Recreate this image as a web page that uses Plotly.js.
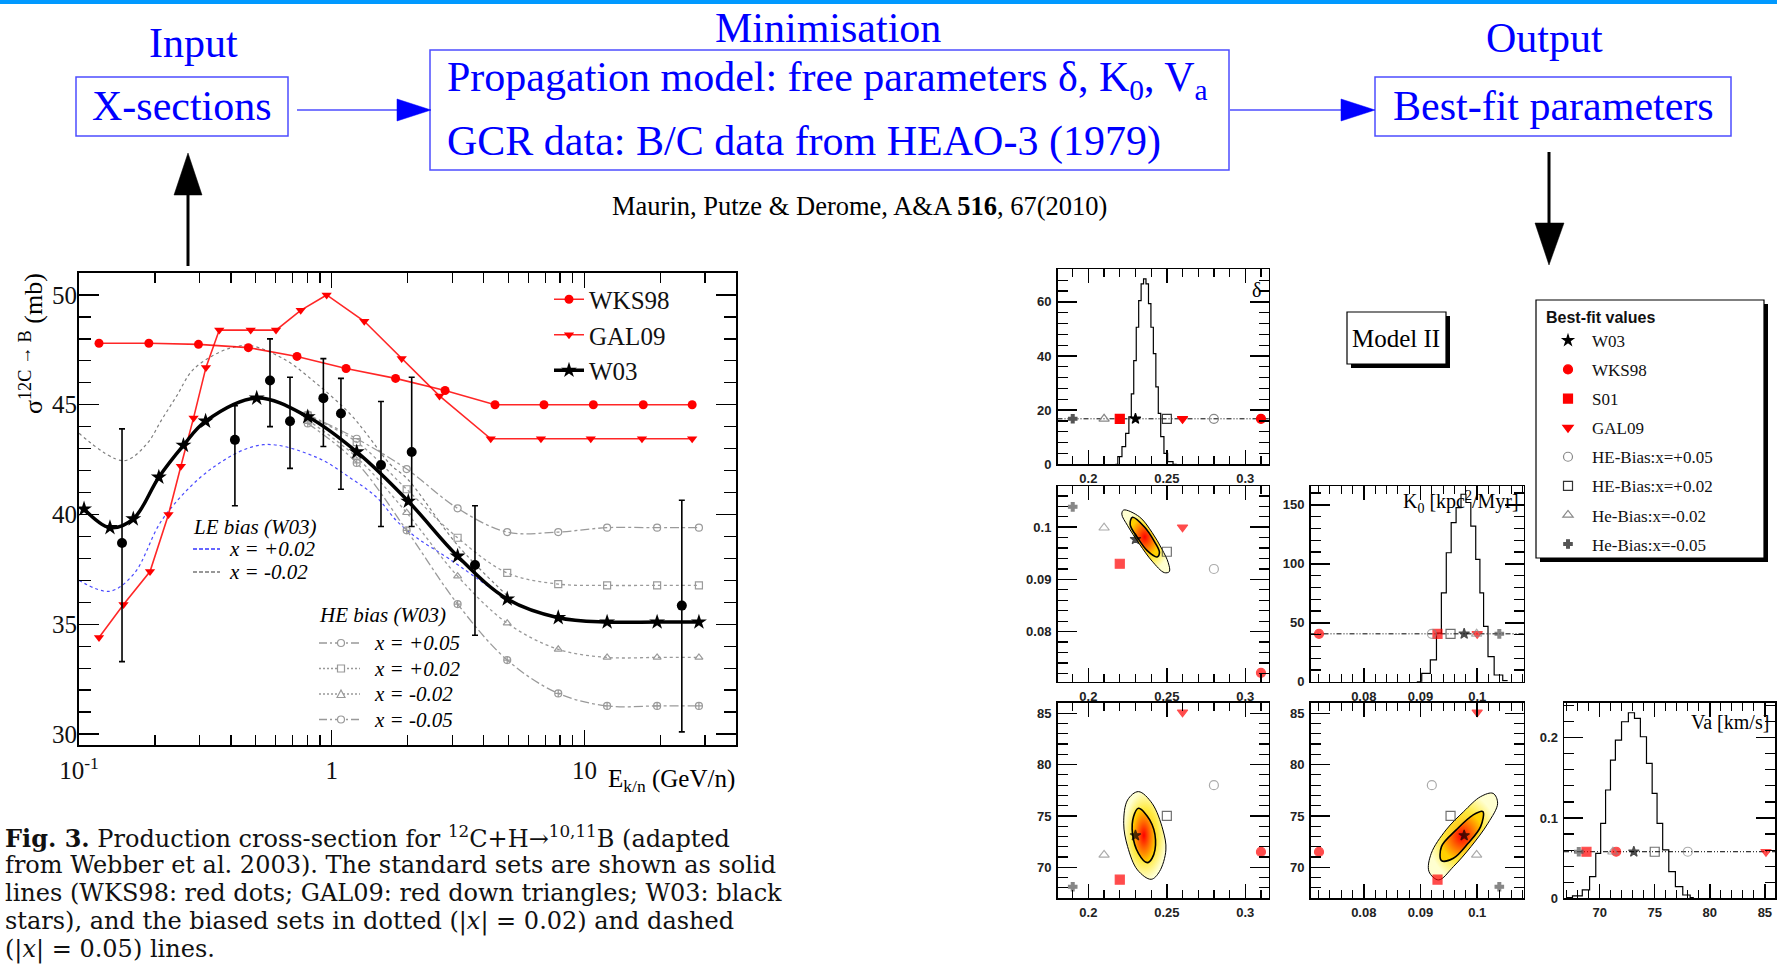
<!DOCTYPE html>
<html><head><meta charset="utf-8">
<script src="https://cdn.plot.ly/plotly-3.0.1.min.js"></script>
<style>html,body{margin:0;padding:0;background:#fff;}#chart{width:1777px;height:965px;}</style>
</head><body><div id="chart"></div>
<script>
// ================= DATA =================
// Left plot: production cross-section 12C -> B
const wks98X = [0.12, 0.189, 0.297, 0.468, 0.729, 1.14, 1.79, 2.81, 4.43, 6.92, 10.85, 17.1, 26.7];
const wks98Y = [47.8, 47.8, 47.75, 47.6, 47.2, 46.65, 46.2, 45.65, 45.0, 45.0, 45.0, 45.0, 45.0];
const gal09X = [0.12, 0.15, 0.191, 0.226, 0.253, 0.284, 0.318, 0.359, 0.478, 0.602, 0.754, 0.955, 1.346, 1.892, 2.67, 4.26, 6.73, 10.6, 16.9, 26.7];
const gal09Y = [34.4, 35.9, 37.4, 40.0, 42.2, 44.4, 46.7, 48.4, 48.4, 48.4, 49.3, 50.0, 48.8, 47.1, 45.4, 43.45, 43.45, 43.45, 43.45, 43.45];
const w03X = [0.1047, 0.1326, 0.164, 0.207, 0.259, 0.317, 0.505, 0.804, 1.256, 2.01, 3.15, 4.95, 7.88, 12.3, 19.4, 28.4];
const w03Y = [40.25, 39.4, 39.8, 41.7, 43.15, 44.25, 45.3, 44.45, 42.85, 40.6, 38.1, 36.15, 35.3, 35.1, 35.1, 35.1];
const measX = [0.148, 0.414, 0.570, 0.684, 0.927, 1.088, 1.567, 2.073, 3.69, 24.3];
const measY = [38.7, 43.4, 46.1, 44.25, 45.3, 44.6, 42.25, 42.85, 37.7, 35.85];
const measErrPlus = [5.2, 1.55, 1.9, 2.0, 1.8, 1.6, 2.9, 3.4, 2.7, 4.8];
const measErrMinus = [5.4, 3.0, 2.1, 2.15, 2.2, 3.45, 2.8, 3.4, 3.2, 5.75];
const leP02X = [0.1, 0.132, 0.165, 0.216, 0.34, 0.536, 0.872, 1.18, 1.51, 1.81, 2.17, 2.94, 4.95];
const leP02Y = [37.0, 36.5, 37.3, 39.85, 42.15, 43.18, 42.6, 41.68, 40.77, 39.7, 38.94, 37.95, 36.1];
const leM02X = [0.1, 0.15, 0.185, 0.212, 0.2435, 0.283, 0.361, 0.42, 0.475, 0.643, 0.872, 1.18, 1.375, 1.70, 2.0, 3.15, 4.95];
const leM02Y = [43.7, 42.45, 43.2, 44.3, 45.4, 46.6, 47.4, 47.65, 47.7, 47.1, 45.96, 44.59, 43.67, 42.3, 41.6, 38.6, 36.3];
const heX = [0.804, 1.256, 1.98, 3.15, 4.95, 7.88, 12.3, 19.4, 28.4];
const heP05Y = [44.55, 43.45, 42.07, 40.28, 39.2, 39.2, 39.4, 39.4, 39.4];
const heP02Y = [44.5, 43.3, 41.15, 38.94, 37.34, 36.83, 36.77, 36.77, 36.77];
const heM02Y = [44.3, 42.6, 40.08, 37.19, 35.05, 33.86, 33.49, 33.49, 33.49];
const heM05Y = [44.15, 42.35, 39.28, 35.92, 33.37, 31.85, 31.28, 31.28, 31.28];
const xTickVals = [0.1, 1, 10];
const xTickText = ['10<sup>-1</sup>', '1', '10'];
const xMinorVals = [0.2, 0.3, 0.4, 0.5, 0.6, 0.7, 0.8, 0.9, 2, 3, 4, 5, 6, 7, 8, 9, 20, 30];

// Right panels: best-fit values
const setNames = ['W03', 'WKS98', 'S01', 'GAL09', 'HE-Bias:x=+0.05', 'HE-Bias:x=+0.02', 'He-Bias:x=-0.02', 'He-Bias:x=-0.05'];
const bestDelta = [0.23, 0.31, 0.22, 0.26, 0.28, 0.25, 0.21, 0.19];
const bestK0 = [0.0977, 0.0721, 0.093, 0.100, 0.092, 0.0953, 0.0999, 0.1039];
const bestVa = [73.1, 71.5, 68.8, 85.1, 78.0, 75.0, 71.2, 68.1];
// PDF histograms
const deltaHistX = [0.2172, 0.2203, 0.2225, 0.225, 0.2266, 0.2281, 0.2297, 0.2313, 0.2328, 0.2344, 0.2359, 0.2375, 0.2391, 0.2406, 0.2422, 0.2438, 0.2453, 0.2469, 0.2494, 0.2516, 0.2563];
const deltaHistY = [0, 2.8, 6.5, 11.4, 17.5, 26.0, 38.3, 50.6, 60.4, 66.6, 68.5, 66.6, 59.3, 50.6, 40.9, 28.6, 18.8, 10.2, 4.0, 1.0, 0];
const k0HistX = [0.08935, 0.09108, 0.09238, 0.09325, 0.09411, 0.09498, 0.09584, 0.09671, 0.09758, 0.09844, 0.09931, 0.10017, 0.10078, 0.10147, 0.10234, 0.10364, 0.10537];
const k0HistY = [0, 7.1, 18.5, 41.2, 75.3, 109.4, 135, 147.7, 159, 152, 132, 103.7, 75.3, 46.9, 21.3, 5.7, 0.9];
const vaHistX = [66.97, 68.09, 68.75, 69.42, 69.87, 70.31, 70.76, 71.2, 71.65, 72.32, 72.89, 73.43, 73.96, 74.54, 74.99, 75.43, 76.01, 76.54, 77.21, 77.88, 78.55];
const vaHistY = [0.001, 0.003, 0.0104, 0.027, 0.056, 0.0934, 0.1349, 0.1722, 0.1971, 0.2199, 0.2311, 0.2241, 0.2012, 0.168, 0.1307, 0.0934, 0.0602, 0.0332, 0.0145, 0.0041, 0.0008];
// 2D credible contours (outer / inner)
const dkOuterD = [0.2225, 0.2325, 0.2406, 0.2469, 0.2509, 0.2516, 0.2484, 0.2406, 0.2325, 0.2250, 0.2213, 0.2225];
const dkOuterK = [0.1033, 0.1020, 0.0990, 0.0958, 0.0932, 0.0915, 0.0913, 0.0935, 0.0968, 0.1003, 0.1025, 0.1033];
const dkInnerD = [0.2281, 0.2359, 0.2422, 0.2453, 0.2438, 0.2375, 0.2313, 0.2266, 0.2281];
const dkInnerK = [0.1019, 0.1000, 0.0972, 0.0952, 0.0943, 0.0955, 0.0980, 0.1005, 0.1019];
const dvOuterD = [0.2319, 0.2406, 0.2475, 0.2494, 0.2453, 0.2400, 0.2313, 0.2250, 0.2225, 0.2250, 0.2319];
const dvOuterV = [77.37, 76.23, 73.64, 71.69, 69.58, 68.83, 69.74, 72.01, 74.29, 76.56, 77.37];
const dvInnerD = [0.2319, 0.2391, 0.2428, 0.2406, 0.2375, 0.2319, 0.2281, 0.2288, 0.2319];
const dvInnerV = [75.75, 74.61, 72.66, 70.88, 70.45, 71.36, 73.31, 74.94, 75.75];
const kvOuterK = [0.1028, 0.1036, 0.1019, 0.0989, 0.0958, 0.0932, 0.0915, 0.0919, 0.0945, 0.0976, 0.1006, 0.1028];
const kvOuterV = [77.2, 76.23, 74.29, 72.01, 70.06, 68.77, 69.58, 71.36, 73.64, 75.42, 76.88, 77.2];
const kvInnerK = [0.1010, 0.1006, 0.0984, 0.0958, 0.0937, 0.0937, 0.0963, 0.0993, 0.1010];
const kvInnerV = [75.42, 73.96, 72.34, 70.88, 70.65, 72.01, 73.64, 75.1, 75.42];

// ================= STYLE / LAYOUT CONSTANTS =================
const W = 1777, H = 965;
const px = x => x / W;
const py = y => 1 - y / H;
const SERIF = 'Liberation Serif, Times New Roman, serif';
const SANS = 'Liberation Sans, Arial, sans-serif';
const CAPFONT = 'DejaVu Serif, serif';
const BLUE = '#0000ff';
const rowLevel = {p1: 16.8, p3: 40.6, p6: 0.058};
const bfSymbol = ['star', 'circle', 'square', 'triangle-down', 'circle-open', 'square-open', 'triangle-up-open', 'cross'];
const bfColor = ['#000000', '#ff0000', '#ff0000', '#ff0000', '#888888', '#333333', '#888888', '#555555'];
const bfSize = [8, 9, 9, 9, 9, 9, 9, 7];

// ================= TRACES =================
const data = [];
const lp = {xaxis: 'x', yaxis: 'y', showlegend: false};
data.push(Object.assign({x: leP02X, y: leP02Y, mode: 'lines', line: {color: '#4a4aff', width: 1.2, dash: 'dot', shape: 'spline'}}, lp));
data.push(Object.assign({x: leM02X, y: leM02Y, mode: 'lines', line: {color: '#808080', width: 1.2, dash: 'dot', shape: 'spline'}}, lp));
const heStyles = [
  {y: heP05Y, dash: 'dashdot', sym: 'circle-open'},
  {y: heP02Y, dash: 'dot', sym: 'square-open'},
  {y: heM02Y, dash: 'dot', sym: 'triangle-up-open'},
  {y: heM05Y, dash: 'dashdot', sym: 'circle-cross-open'}
];
heStyles.forEach(s => data.push(Object.assign({x: heX, y: s.y, mode: 'lines+markers',
  line: {color: '#9a9a9a', width: 1.3, dash: s.dash, shape: 'spline'},
  marker: {symbol: s.sym, size: 7, color: '#9a9a9a', line: {color: '#9a9a9a', width: 1.2}}}, lp)));
data.push({x: wks98X, y: wks98Y, name: 'WKS98', xaxis: 'x', yaxis: 'y', legend: 'legend', mode: 'lines+markers',
  line: {color: 'rgba(255,0,0,0.85)', width: 1.6}, marker: {symbol: 'circle', size: 9, color: '#ff0000'}});
data.push({x: gal09X, y: gal09Y, name: 'GAL09', xaxis: 'x', yaxis: 'y', legend: 'legend', mode: 'lines+markers',
  line: {color: 'rgba(255,0,0,0.85)', width: 1.6}, marker: {symbol: 'triangle-down', size: 9, color: '#ff0000'}});
data.push(Object.assign({x: measX, y: measY, mode: 'markers', marker: {symbol: 'circle', size: 10, color: '#000'},
  error_y: {type: 'data', symmetric: false, array: measErrPlus, arrayminus: measErrMinus, color: '#000', thickness: 1.6, width: 3}}, lp));
data.push({x: w03X, y: w03Y, name: 'W03', xaxis: 'x', yaxis: 'y', legend: 'legend', mode: 'lines+markers',
  line: {color: '#000', width: 3.5, shape: 'spline'}, marker: {symbol: 'star', size: 12, color: '#000'}});

// panel 1: delta PDF
data.push({x: deltaHistX, y: deltaHistY, xaxis: 'x2', yaxis: 'y2', mode: 'lines', line: {color: '#000', width: 1.2, shape: 'hvh'}, showlegend: false});
for (let i = 0; i < setNames.length; i++) {
  data.push({x: [bestDelta[i]], y: [rowLevel.p1], xaxis: 'x2', yaxis: 'y2', mode: 'markers', name: setNames[i],
    legend: 'legend2', legendgroup: 'bf' + i,
    marker: {symbol: bfSymbol[i], size: bfSize[i], color: bfColor[i], line: {color: bfColor[i], width: 1.2}}});
}
function contour(xo, yo, xi, yi, xa, ya) {
  data.push({x: xo, y: yo, xaxis: xa, yaxis: ya, mode: 'lines', fill: 'toself', showlegend: false,
    line: {color: '#000', width: 1, shape: 'spline'}, fillcolor: '#fff176',
    fillgradient: {type: 'radial', colorscale: [[0, '#ffb000'], [0.6, '#ffea40'], [1, '#ffffd0']]}});
  data.push({x: xi, y: yi, xaxis: xa, yaxis: ya, mode: 'lines', fill: 'toself', showlegend: false,
    line: {color: '#000', width: 1.6, shape: 'spline'}, fillcolor: '#ff8c00',
    fillgradient: {type: 'radial', colorscale: [[0, '#ff0000'], [0.45, '#ff6000'], [1, '#ffd000']]}});
}
const bfMarker = {symbol: bfSymbol, size: bfSize, color: bfColor, line: {color: bfColor, width: 1.2}};
contour(dkOuterD, dkOuterK, dkInnerD, dkInnerK, 'x3', 'y3');
data.push({x: bestDelta, y: bestK0, xaxis: 'x3', yaxis: 'y3', mode: 'markers', marker: bfMarker, showlegend: false});
data.push({x: k0HistX, y: k0HistY, xaxis: 'x4', yaxis: 'y4', mode: 'lines', line: {color: '#000', width: 1.2, shape: 'hvh'}, showlegend: false});
data.push({x: bestK0, y: bestK0.map(() => rowLevel.p3), xaxis: 'x4', yaxis: 'y4', mode: 'markers', marker: bfMarker, showlegend: false});
contour(dvOuterD, dvOuterV, dvInnerD, dvInnerV, 'x5', 'y5');
data.push({x: bestDelta, y: bestVa, xaxis: 'x5', yaxis: 'y5', mode: 'markers', marker: bfMarker, showlegend: false});
contour(kvOuterK, kvOuterV, kvInnerK, kvInnerV, 'x6', 'y6');
data.push({x: bestK0, y: bestVa, xaxis: 'x6', yaxis: 'y6', mode: 'markers', marker: bfMarker, showlegend: false});
data.push({x: vaHistX, y: vaHistY, xaxis: 'x7', yaxis: 'y7', mode: 'lines', line: {color: '#000', width: 1.2, shape: 'hvh'}, showlegend: false});
data.push({x: bestVa, y: bestVa.map(() => rowLevel.p6), xaxis: 'x7', yaxis: 'y7', mode: 'markers', marker: bfMarker, showlegend: false});

// ================= AXES =================
const tickFontP = {family: SANS, size: 13, weight: 'bold', color: '#222'};
function pAx(x0, x1, range, dtick, mdtick, len, mlen, anchor, isY) {
  return {domain: isY ? [1 - x1 / H, 1 - x0 / H] : [x0 / W, x1 / W], range: range, anchor: anchor,
    tickmode: 'linear', tick0: 0, dtick: dtick, ticks: 'inside', ticklen: len, tickwidth: 1.5, tickcolor: '#000',
    minor: {dtick: mdtick, tick0: 0, ticks: 'inside', ticklen: mlen, tickwidth: 1.2, tickcolor: '#000'},
    showline: true, linecolor: '#000', linewidth: 1.5, mirror: 'allticks', showgrid: false, zeroline: false,
    tickfont: tickFontP, ticklabelstandoff: 2};
}
const cA = [1057.5, 1268.8], cB = [1310.5, 1523.7], cC = [1564, 1775];
const r1 = [269.3, 464.3], r2 = [486, 681.7], r3 = [702.7, 898.3];
const dR = [0.1803, 0.315], kR = [0.0706, 0.1082], vR = [66.98, 86.03];

const layout = {
  width: W, height: H, margin: {l: 0, r: 0, t: 0, b: 0},
  paper_bgcolor: '#fff', plot_bgcolor: 'rgba(0,0,0,0)',
  font: {family: SERIF, color: '#000'},
  xaxis: {domain: [79 / W, 736 / W], type: 'log', range: [-1, 1.6], anchor: 'y',
    tickmode: 'array', tickvals: xTickVals, ticktext: xTickText,
    ticks: 'inside', ticklen: 15, tickwidth: 1.5, tickcolor: '#000',
    minor: {tickmode: 'array', tickvals: xMinorVals, ticks: 'inside', ticklen: 10, tickwidth: 1.3, tickcolor: '#000'},
    showline: true, linecolor: '#000', linewidth: 2, mirror: 'allticks', showgrid: false, zeroline: false,
    tickfont: {family: SERIF, size: 25, color: '#111'}, ticklabelstandoff: 2},
  yaxis: {domain: [1 - 745 / H, 1 - 273 / H], range: [29.5, 51], anchor: 'x',
    tickmode: 'linear', tick0: 0, dtick: 5, ticks: 'inside', ticklen: 20, tickwidth: 1.5, tickcolor: '#000',
    minor: {dtick: 1, tick0: 0, ticks: 'inside', ticklen: 12, tickwidth: 1.3, tickcolor: '#000'},
    showline: true, linecolor: '#000', linewidth: 2, mirror: 'allticks', showgrid: false, zeroline: false,
    tickfont: {family: SERIF, size: 25, color: '#111'}, ticklabelstandoff: -5},
  xaxis2: pAx(cA[0], cA[1], dR, 0.05, 0.01, 14, 8, 'y2'),
  yaxis2: pAx(r1[0], r1[1], [0, 72], 20, 4, 19, 10, 'x2', true),
  xaxis3: pAx(cA[0], cA[1], dR, 0.05, 0.01, 14, 8, 'y3'),
  yaxis3: pAx(r2[0], r2[1], [0.0704, 0.1079], 0.01, 0.002, 19, 10, 'x3', true),
  xaxis4: pAx(cB[0], cB[1], kR, 0.01, 0.002, 14, 8, 'y4'),
  yaxis4: pAx(r2[0], r2[1], [0, 166], 50, 10, 19, 10, 'x4', true),
  xaxis5: pAx(cA[0], cA[1], dR, 0.05, 0.01, 14, 8, 'y5'),
  yaxis5: pAx(r3[0], r3[1], vR, 5, 1, 19, 10, 'x5', true),
  xaxis6: pAx(cB[0], cB[1], kR, 0.01, 0.002, 14, 8, 'y6'),
  yaxis6: pAx(r3[0], r3[1], vR, 5, 1, 19, 10, 'x6', true),
  xaxis7: pAx(cC[0], cC[1], [66.76, 85.92], 5, 1, 14, 8, 'y7'),
  yaxis7: pAx(r3[0], r3[1], [0, 0.2436], 0.1, 0.02, 19, 10, 'x7', true),
  showlegend: true,
  legend: {x: px(549), y: py(276.5), xanchor: 'left', yanchor: 'top', bgcolor: 'rgba(0,0,0,0)', borderwidth: 0,
    font: {family: SERIF, size: 25, color: '#111'}, itemwidth: 30, traceorder: 'normal', tracegroupgap: 0},
  legend2: {x: px(1544), y: py(302), xanchor: 'left', yanchor: 'top', bgcolor: 'rgba(0,0,0,0)', borderwidth: 0,
    font: {family: SERIF, size: 17, color: '#111'}, itemwidth: 38, traceorder: 'grouped', tracegroupgap: 4,
    title: {text: 'Best-fit values', font: {family: SANS, size: 16, weight: 'bold', color: '#111'}}},
  shapes: [], annotations: []
};

// ================= DECORATION (shapes / texts) =================
const S = layout.shapes, A = layout.annotations;
function rect(x0, y0, x1, y1, color, width, fill) {
  S.push({type: 'rect', xref: 'paper', yref: 'paper', x0: px(x0), x1: px(x1), y0: py(y1), y1: py(y0),
    line: {color: color, width: width}, fillcolor: fill || 'rgba(0,0,0,0)', layer: 'above'});
}
function seg(x0, y0, x1, y1, color, width, dash) {
  S.push({type: 'line', xref: 'paper', yref: 'paper', x0: px(x0), x1: px(x1), y0: py(y0), y1: py(y1),
    line: {color: color, width: width, dash: dash || 'solid'}, layer: 'above'});
}
function poly(pts, fill, lineColor, lw) {
  const d = pts.map((p, i) => (i ? 'L ' : 'M ') + px(p[0]) + ' ' + py(p[1])).join(' ') + ' Z';
  S.push({type: 'path', xref: 'paper', yref: 'paper', path: d, fillcolor: fill, line: {color: lineColor || fill, width: lw || 0.5}, layer: 'above'});
}
function circ(cx, cy, r, color, fill) {
  S.push({type: 'circle', xref: 'paper', yref: 'paper', x0: px(cx - r), x1: px(cx + r), y0: py(cy + r), y1: py(cy - r),
    line: {color: color, width: 1.2}, fillcolor: fill || '#fff', layer: 'above'});
}
function txt(text, x, y, size, o) {
  o = o || {};
  A.push({text: text, xref: 'paper', yref: 'paper', x: px(x), y: py(y), xanchor: o.xa || 'center', yanchor: o.ya || 'middle',
    showarrow: false, textangle: o.angle || 0, align: o.align || 'left',
    font: {family: o.family || SERIF, size: size, color: o.color || '#000', style: o.style || 'normal', weight: o.weight || 'normal'}});
}

rect(0, 0, W, 4, '#0099ff', 0, '#0099ff');
rect(76, 77, 288, 136, '#4d4dff', 1.5);
rect(430, 50, 1229, 170, '#4d4dff', 1.5);
rect(1375, 77, 1731, 136, '#4d4dff', 1.5);
seg(297, 110, 400, 110, '#4d4dff', 1.5);
poly([[397, 99], [431, 110], [397, 121]], BLUE);
seg(1230, 110, 1344, 110, '#4d4dff', 1.5);
poly([[1341, 99], [1375, 110], [1341, 121]], BLUE);
seg(188, 266, 188, 190, '#000', 3);
poly([[174, 195], [188, 153], [202, 195]], '#000');
seg(1549, 152, 1549, 226, '#000', 3);
poly([[1535, 223], [1549, 265], [1564, 223]], '#000');

txt('Input', 193, 43, 42, {color: BLUE});
txt('Minimisation', 828, 28, 42, {color: BLUE});
txt('Output', 1544, 38, 42, {color: BLUE});
txt('X-sections', 182, 106, 42, {color: BLUE});
txt('Best-fit parameters', 1553, 106, 42, {color: BLUE});
txt('Propagation model: free parameters δ, K<sub>0</sub>, V<sub>a</sub>', 445, 80, 42, {color: BLUE, xa: 'left'});
txt('GCR data: B/C data from HEAO-3 (1979)', 445, 141, 42, {color: BLUE, xa: 'left'});
txt('Maurin, Putze &amp; Derome, A&amp;A <b>516</b>, 67(2010)', 859, 206, 26.5);

txt('σ<sup>12C → B</sup> (mb)', 31, 344, 26, {angle: -90});
txt('E<sub>k/n</sub> (GeV/n)', 737, 780, 25, {xa: 'right'});
txt('LE bias (W03)', 191, 527, 21, {xa: 'left', style: 'italic'});
seg(193, 549, 220, 549, '#3333ff', 1.3, '4px,2px');
txt('x = +0.02', 227, 549, 21, {xa: 'left', style: 'italic'});
seg(193, 572, 220, 572, '#777', 1.3, '4px,2px');
txt('x = -0.02', 227, 572, 21, {xa: 'left', style: 'italic'});
txt('HE bias (W03)', 317, 615, 21, {xa: 'left', style: 'italic'});
const heRows = [643, 668.5, 694, 719.5];
const heLab = ['x = +0.05', 'x = +0.02', 'x = -0.02', 'x = -0.05'];
const heDash = ['8px,3px,2px,3px', '2px,2px', '2px,2px', '8px,3px,2px,3px'];
heRows.forEach((yy, i) => {
  seg(319, yy, 360, yy, '#999', 1.3, heDash[i]);
  if (i === 1) rect(337.5, yy - 3.5, 344.5, yy + 3.5, '#999', 1.2, '#fff');
  else if (i === 2) poly([[337, yy + 3.5], [341, yy - 4], [345, yy + 3.5]], '#fff', '#999', 1.2);
  else circ(341, yy, 3.5, '#999');
  txt(heLab[i], 372, yy, 21, {xa: 'left', style: 'italic'});
});

txt('δ', 1256, 290, 20);
txt('K<sub>0</sub> [kpc<sup>2</sup>/Myr]', 1521, 502, 20, {xa: 'right'});
txt('Va [km/s]', 1771, 722, 20, {xa: 'right'});
rect(1351, 316, 1450, 368, '#000', 0, '#000');
rect(1347, 312, 1446, 364, '#000', 1.2, '#fff');
txt('Model II', 1396, 338, 25);
rect(1540, 304, 1768, 562, '#000', 0, '#000');
rect(1536, 300, 1764, 558, '#000', 1.2, '#fff');
[['x2', 'y2', rowLevel.p1], ['x4', 'y4', rowLevel.p3], ['x7', 'y7', rowLevel.p6]].forEach(r => {
  S.push({type: 'line', xref: r[0] + ' domain', yref: r[1], x0: 0, x1: 1, y0: r[2], y1: r[2],
    line: {color: '#000', width: 1, dash: '5px,2px,1px,2px,1px,2px'}, layer: 'below'});
});

const capLines = [
  '<b>Fig. 3.</b> Production cross-section for <sup>12</sup>C+H→<sup>10,11</sup>B (adapted',
  'from Webber et al. 2003). The standard sets are shown as solid',
  'lines (WKS98: red dots; GAL09: red down triangles; W03: black',
  'stars), and the biased sets in dotted (|<i>x</i>| = 0.02) and dashed',
  '(|<i>x</i>| = 0.05) lines.'
];
const capY = [836.7, 865, 893.3, 921.7, 949.3];
capLines.forEach((t, i) => txt(t, 3, capY[i], 24, {xa: 'left', color: '#111', family: CAPFONT}));

Plotly.newPlot('chart', data, layout, {staticPlot: true});
</script>
</body></html>
